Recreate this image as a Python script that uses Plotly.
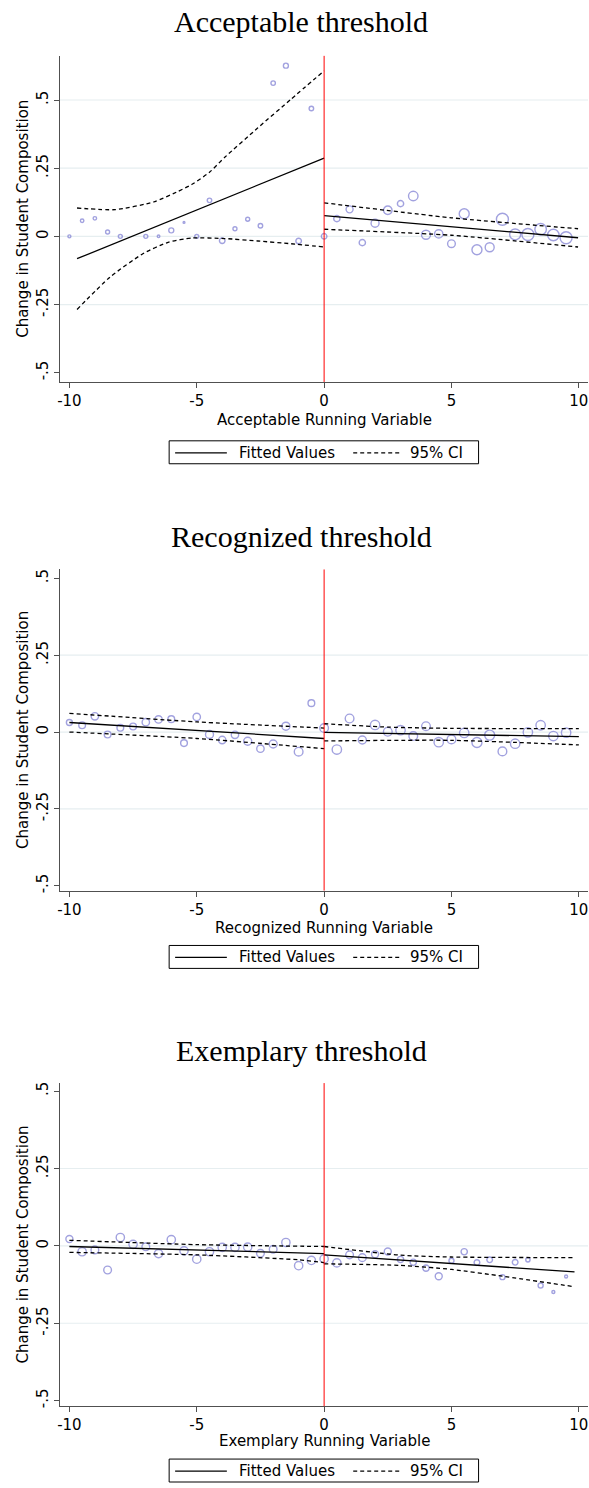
import plotly.graph_objects as go

W, H = 589, 1488

# ---------------- data ----------------
# Acceptable threshold
acc_x = [-10, -9.5, -9, -8.5, -8, -7, -6.5, -6, -5.5, -5, -4.5, -4, -3.5, -3, -2.5, -2, -1.5, -1, -0.5, 0,
         0.5, 1, 1.5, 2, 2.5, 3, 3.5, 4, 4.5, 5, 5.5, 6, 6.5, 7, 7.5, 8, 8.5, 9, 9.5]
acc_y = [0, 0.057, 0.066, 0.016, 0, 0, 0, 0.022, 0.051, 0, 0.132, -0.016, 0.028, 0.063, 0.039, 0.562, 0.626, -0.017, 0.469, 0,
         0.065, 0.099, -0.023, 0.048, 0.096, 0.12, 0.148, 0.006, 0.009, -0.027, 0.083, -0.049, -0.04, 0.063, 0.007, 0.007, 0.026, 0.005, -0.005]
acc_size = [3, 3.5, 3.5, 4, 4, 4, 2.6, 5, 1.8, 4, 4.5, 5.6, 4, 4, 4.5, 4.5, 5, 5.6, 4.5, 5.6,
            6.3, 7, 6.3, 8, 8.5, 6.3, 9.5, 9, 8.3, 7.7, 10, 10, 9, 12, 11, 12, 11.5, 11.5, 12]
acc_fitL_x = [-9.7, 0]
acc_fitL_y = [-0.082, 0.287]
acc_upL_x = [-9.7, -8.2, -6.7, -5.8, -5.2, -4.5, -3.9, -2.6, -1.3, 0]
acc_upL_y = [0.104, 0.098, 0.126, 0.162, 0.19, 0.235, 0.29, 0.398, 0.503, 0.607]
acc_loL_x = [-9.7, -8.4, -7.1, -6.1, -5.2, -3.9, -2.6, -1.3, 0]
acc_loL_y = [-0.268, -0.149, -0.063, -0.021, -0.006, -0.008, -0.017, -0.027, -0.039]
acc_fitR_x = [0, 9.97]
acc_fitR_y = [0.076, -0.005]
acc_upR_x = [0, 5, 9.97]
acc_upR_y = [0.123, 0.068, 0.028]
acc_loR_x = [0, 5, 9.97]
acc_loR_y = [0.026, 0.004, -0.039]

# Recognized threshold
rec_x = [-10, -9.5, -9, -8.5, -8, -7.5, -7, -6.5, -6, -5.5, -5, -4.5, -4, -3.5, -3, -2.5, -2, -1.5, -1, -0.5, 0,
         0.5, 1, 1.5, 2, 2.5, 3, 3.5, 4, 4.5, 5, 5.5, 6, 6.5, 7, 7.5, 8, 8.5, 9, 9.5]
rec_y = [0.031, 0.022, 0.051, -0.008, 0.014, 0.018, 0.032, 0.041, 0.042, -0.036, 0.049, -0.008, -0.026, -0.009, -0.030,
         -0.054, -0.039, 0.019, -0.064, 0.094, 0.013,
         -0.057, 0.044, -0.026, 0.023, 0.001, 0.006, -0.013, 0.019, -0.033, -0.024, -0.003, -0.034, -0.010, -0.063,
         -0.038, -0.001, 0.022, -0.013, -0.002]
rec_size = [6, 6.7, 7.4, 6.7, 6.7, 6.7, 7.4, 7.4, 6.7, 6.7, 7.4, 8, 7.4, 7.4, 8, 7.4, 8, 8, 8.7, 6.7, 8.7,
            9.4, 8.7, 8, 9.4, 8.7, 9.4, 8.7, 8.7, 9.4, 8.7, 9.4, 10, 10, 8.7, 9.4, 9.4, 9.4, 9.4, 9.4]
rec_fitL_x = [-10, 0]
rec_fitL_y = [0.031, -0.021]
rec_upL_x = [-10, -5, 0]
rec_upL_y = [0.061, 0.033, 0.013]
rec_loL_x = [-10, -5, 0]
rec_loL_y = [0.0, -0.021, -0.054]
rec_fitR_x = [0, 10]
rec_fitR_y = [-0.001, -0.015]
rec_upR_x = [0, 2.5, 5, 10]
rec_upR_y = [0.027, 0.016, 0.012, 0.011]
rec_loR_x = [0, 5, 10]
rec_loR_y = [-0.029, -0.027, -0.042]

# Exemplary threshold
exe_x = rec_x
exe_y = [0.022, -0.019, -0.013, -0.078, 0.027, 0.005, -0.003, -0.025, 0.020, -0.016, -0.043, -0.019, -0.005, -0.005,
         -0.004, -0.024, -0.011, 0.011, -0.064, -0.047, -0.042,
         -0.055, -0.029, -0.038, -0.027, -0.018, -0.044, -0.053, -0.072, -0.098, -0.048, -0.019, -0.054, -0.045,
         -0.101, -0.053, -0.045, -0.128, -0.149, -0.099]
exe_size = [7, 8.3, 7.7, 7.7, 8.3, 8.3, 7.7, 8.3, 8.3, 8.3, 8.3, 8.3, 8.3, 8.3, 8.3, 7.7, 7.7, 8.3, 8.3, 8.3, 8.3,
            8.3, 7.7, 7.7, 7, 7, 6.3, 6.3, 6.3, 7, 5, 6.3, 5.7, 5.7, 5, 5.7, 4.3, 5, 3, 3]
exe_fitL_x = [-10, 0]
exe_fitL_y = [-0.002, -0.025]
exe_upL_x = [-10, -5, 0]
exe_upL_y = [0.018, 0.004, -0.002]
exe_loL_x = [-10, -5, -1, 0]
exe_loL_y = [-0.021, -0.029, -0.045, -0.054]
exe_fitR_x = [0, 9.83]
exe_fitR_y = [-0.029, -0.084]
exe_upR_x = [0, 3, 5, 9.83]
exe_upR_y = [-0.002, -0.030, -0.036, -0.038]
exe_loR_x = [0, 3, 5, 7, 9.83]
exe_loR_y = [-0.058, -0.063, -0.076, -0.098, -0.132]

cutoff = 0
x_ticks = [-10, -5, 0, 5, 10]
x_ticktext = ["-10", "-5", "0", "5", "10"]
y_ticks = [-0.5, -0.25, 0, 0.25, 0.5]
y_ticktext = ["-.5", "-.25", "0", ".25", ".5"]
titles = ["Acceptable threshold", "Recognized threshold", "Exemplary threshold"]
x_titles = ["Acceptable Running Variable", "Recognized Running Variable", "Exemplary Running Variable"]
y_title = "Change in Student Composition"
legend_labels = ["Fitted Values", "95% CI"]

# ---------------- layout geometry (pixels) ----------------
PLOT_L, PLOT_R = 57, 588
XRANGE = [-10.38, 10.36]
panels = [
    dict(top=55, bottom=382, yrange=[-0.534, 0.662], title_y=21, xt_y=420, leg_top=441,
         data=(acc_x, acc_y, acc_size),
         fits=[(acc_fitL_x, acc_fitL_y, "solid"), (acc_upL_x, acc_upL_y, "dash"), (acc_loL_x, acc_loL_y, "dash"),
               (acc_fitR_x, acc_fitR_y, "solid"), (acc_upR_x, acc_upR_y, "dash"), (acc_loR_x, acc_loR_y, "dash")]),
    dict(top=570, bottom=892, yrange=[-0.516, 0.529], title_y=537, xt_y=929, leg_top=947,
         data=(rec_x, rec_y, rec_size),
         fits=[(rec_fitL_x, rec_fitL_y, "solid"), (rec_upL_x, rec_upL_y, "dash"), (rec_loL_x, rec_loL_y, "dash"),
               (rec_fitR_x, rec_fitR_y, "solid"), (rec_upR_x, rec_upR_y, "dash"), (rec_loR_x, rec_loR_y, "dash")]),
    dict(top=1085, bottom=1409, yrange=[-0.518, 0.526], title_y=1052, xt_y=1444, leg_top=1462,
         data=(exe_x, exe_y, exe_size),
         fits=[(exe_fitL_x, exe_fitL_y, "solid"), (exe_upL_x, exe_upL_y, "dash"), (exe_loL_x, exe_loL_y, "dash"),
               (exe_fitR_x, exe_fitR_y, "solid"), (exe_upR_x, exe_upR_y, "dash"), (exe_loR_x, exe_loR_y, "dash")]),
]


def px(xp):
    return xp / W


def py(yp):
    return 1 - yp / H


MARKER_COLOR = "rgb(122,122,210)"
AXIS_COLOR = "#505050"
GRID_COLOR = "#E6EEF0"
SANS = "DejaVu Sans"
SERIF = "Liberation Serif"

fig = go.Figure()
shapes = []
annotations = []
layout_axes = {}

for i, p in enumerate(panels):
    n = "" if i == 0 else str(i + 1)
    xa, ya = "x" + n, "y" + n
    xs, ys, ss = p["data"]
    fig.add_trace(go.Scatter(
        x=xs, y=ys, mode="markers", xaxis=xa, yaxis=ya, showlegend=False,
        marker=dict(symbol="circle-open", size=ss, color=MARKER_COLOR, line=dict(width=1.4, color=MARKER_COLOR)),
        hoverinfo="skip"))
    for fx, fy, style in p["fits"]:
        fig.add_trace(go.Scatter(
            x=fx, y=fy, mode="lines", xaxis=xa, yaxis=ya, showlegend=False,
            line=dict(color="black", width=1.3, dash="solid" if style == "solid" else "4px,3px",
                      shape="spline" if len(fx) > 2 else "linear", smoothing=0.6),
            hoverinfo="skip"))

    layout_axes["xaxis" + n] = dict(
        domain=[px(PLOT_L), px(PLOT_R)], range=XRANGE, anchor=ya,
        tickmode="array", tickvals=x_ticks, ticktext=x_ticktext,
        ticks="outside", ticklen=5, tickwidth=1, tickcolor=AXIS_COLOR,
        showline=True, linecolor=AXIS_COLOR, linewidth=1, showgrid=False, zeroline=False,
        tickfont=dict(family=SANS, size=15, color="black"))
    layout_axes["yaxis" + n] = dict(
        domain=[py(p["bottom"]), py(p["top"])], range=p["yrange"], anchor=xa,
        tickmode="array", tickvals=y_ticks, ticktext=y_ticktext, tickangle=-90,
        ticks="outside", ticklen=5, tickwidth=1, tickcolor=AXIS_COLOR,
        showline=True, linecolor=AXIS_COLOR, linewidth=1, showgrid=False, zeroline=False,
        tickfont=dict(family=SANS, size=15, color="black"))

    # grid lines at interior ticks
    lo, hi = p["yrange"]
    for v in y_ticks:
        if lo + 0.05 < v < hi - 0.05:
            shapes.append(dict(type="line", xref=xa + " domain", yref=ya, x0=0, x1=1, y0=v, y1=v,
                               line=dict(color=GRID_COLOR, width=1.2), layer="below"))
    # cutoff line
    shapes.append(dict(type="line", xref=xa, yref=ya + " domain", x0=cutoff, x1=cutoff, y0=0, y1=1,
                       line=dict(color="#FF0000", width=1), layer="above"))

    # titles
    annotations.append(dict(text=titles[i], xref="paper", yref="paper", x=px(300), y=py(p["title_y"]),
                             xanchor="center", yanchor="middle", showarrow=False,
                             font=dict(family=SERIF, size=30, color="black")))
    annotations.append(dict(text=x_titles[i], xref="paper", yref="paper", x=px((PLOT_L + PLOT_R) / 2 + 0.5),
                            y=py(p["xt_y"]), xanchor="center", yanchor="middle", showarrow=False,
                            font=dict(family=SANS, size=15, color="black")))
    annotations.append(dict(text=y_title, xref="paper", yref="paper", x=px(20),
                            y=py((p["top"] + p["bottom"]) / 2), xanchor="center", yanchor="middle",
                            textangle=-90, showarrow=False, font=dict(family=SANS, size=15, color="black")))

    # legend box
    bl, br = 167, 478
    bt = p["leg_top"]
    bb = bt + 23
    cy = bt + 12
    shapes.append(dict(type="rect", xref="paper", yref="paper", x0=px(bl), x1=px(br), y0=py(bb), y1=py(bt),
                       line=dict(color="black", width=1), fillcolor="rgba(0,0,0,0)"))
    shapes.append(dict(type="line", xref="paper", yref="paper", x0=px(bl + 6), x1=px(bl + 58), y0=py(cy), y1=py(cy),
                       line=dict(color="black", width=1.3)))
    shapes.append(dict(type="line", xref="paper", yref="paper", x0=px(bl + 185), x1=px(bl + 233), y0=py(cy),
                       y1=py(cy), line=dict(color="black", width=1.3, dash="4px,3px")))
    annotations.append(dict(text=legend_labels[0], xref="paper", yref="paper", x=px(bl + 68), y=py(cy),
                            xanchor="left", yanchor="middle", showarrow=False,
                            font=dict(family=SANS, size=15, color="black")))
    annotations.append(dict(text=legend_labels[1], xref="paper", yref="paper", x=px(bl + 240), y=py(cy),
                            xanchor="left", yanchor="middle", showarrow=False,
                            font=dict(family=SANS, size=15, color="black")))

fig.update_layout(
    width=W, height=H, margin=dict(l=0, r=0, t=0, b=0),
    paper_bgcolor="white", plot_bgcolor="white",
    shapes=shapes, annotations=annotations, showlegend=False,
    **layout_axes)

fig.write_html("out.html", config={"displayModeBar": False},
               post_script="document.body.style.margin='0';document.body.style.overflow='hidden';")
